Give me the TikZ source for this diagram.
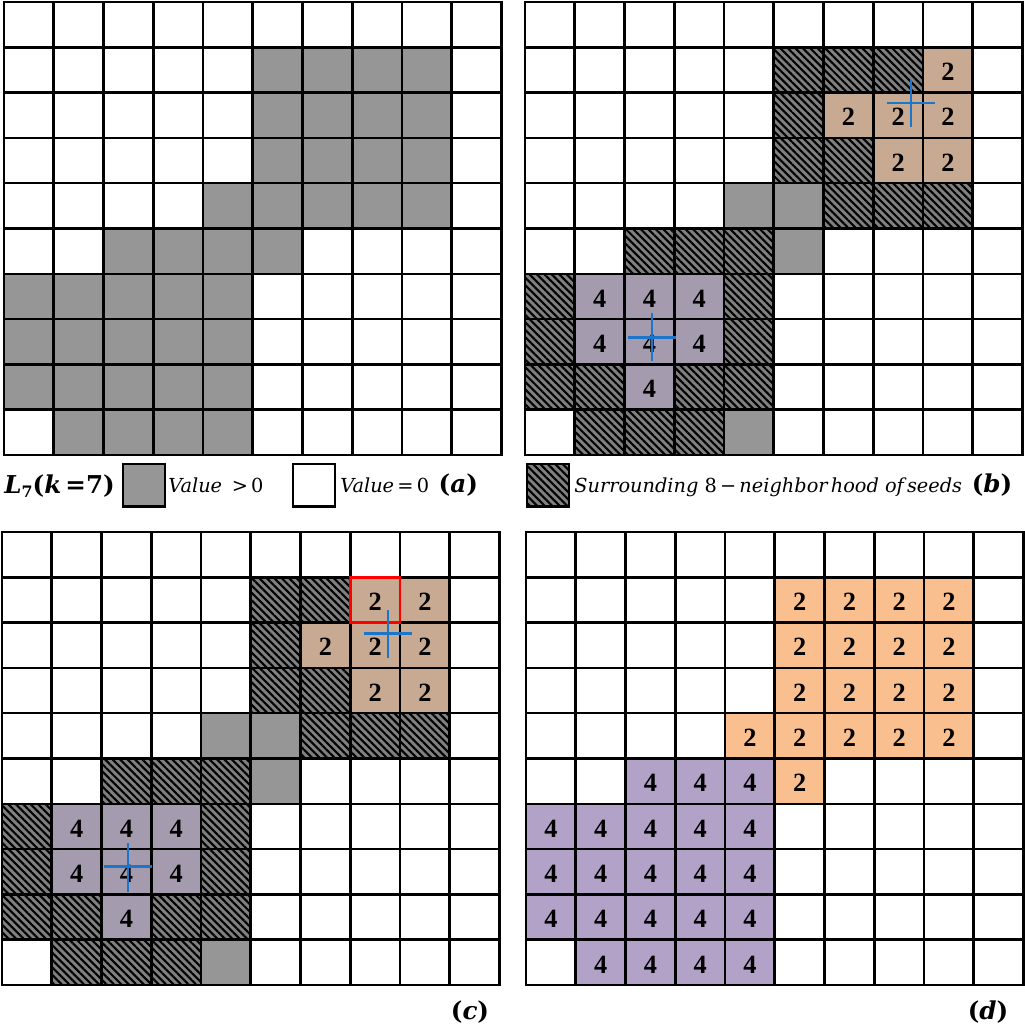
\documentclass[tikz,border=0pt]{standalone}
\usepackage{fontspec}
\newfontfamily\numfont{Liberation Serif}
\newfontfamily\legfont{DejaVu Serif}
\usetikzlibrary{patterns.meta}
\definecolor{gfill}{HTML}{969696}
\definecolor{hfill}{HTML}{808080}
\definecolor{tanfill}{HTML}{C8AA92}
\definecolor{purpb}{HTML}{A49CAE}
\definecolor{orng}{HTML}{F9BF8F}
\definecolor{purpd}{HTML}{B2A2C7}
\definecolor{crossblue}{HTML}{1C75C8}
\def\cwd{49.75}
\def\cht{45.3}
\tikzset{
  gl/.style={line width=1.45pt, draw=black, line cap=rect},
  gcell/.style={fill=gfill},
  hcell/.style={fill=hfill, postaction={pattern={Lines[angle=-45,distance=3pt,line width=1.2pt]}, pattern color=black}},
  tcell/.style={fill=tanfill},
  pbcell/.style={fill=purpb},
  ocell/.style={fill=orng},
  pdcell/.style={fill=purpd},
  num/.style={font=\numfont\bfseries\fontsize{15}{17}\selectfont, inner sep=0pt},
  crossline/.style={line width=1.5pt, draw=crossblue},
  legbox/.style={draw=black, line width=1.4pt},
  legtext/.style={anchor=west, inner sep=0pt, font=\legfont\fontsize{11}{13}\selectfont},
  plabel/.style={inner sep=0pt, font=\legfont\bfseries\fontsize{14}{16}\selectfont},
}
\newcommand\cellset[2]{\foreach \c/\r in {#2} {\path[#1] ({\c*\cwd},{\r*\cht}) rectangle ++(\cwd,\cht);}}
\newcommand\numset[4]{\foreach \c/\r in {#4} {\path[#2] ({\c*\cwd},{\r*\cht}) rectangle ++(\cwd,\cht);
  \node[num] (#1-\c-\r) at ({(\c+0.5)*\cwd},{(\r+0.5)*\cht+2}) {#3};}}
\newcommand\gridlines{\foreach \i in {0,...,10} {\draw[gl] ({\i*\cwd},0) -- ({\i*\cwd},{10*\cht}); \draw[gl] (0,{\i*\cht}) -- ({10*\cwd},{\i*\cht});}}
\begin{document}
\begin{tikzpicture}[x=0.02cm,y=-0.02cm]
\useasboundingbox[fill=white] (0,0) rectangle (1024,1027);

% ---------- panel (a)
\begin{scope}[shift={(4,2)}]
\cellset{gcell}{5/1,6/1,7/1,8/1,5/2,6/2,7/2,8/2,5/3,6/3,7/3,8/3,4/4,5/4,6/4,7/4,8/4,2/5,3/5,4/5,5/5,0/6,1/6,2/6,3/6,4/6,0/7,1/7,2/7,3/7,4/7,0/8,1/8,2/8,3/8,4/8,1/9,2/9,3/9,4/9}
\gridlines
\end{scope}

% ---------- panel (b)
\begin{scope}[shift={(525,2)}]
\cellset{hcell}{5/1,6/1,7/1,5/2,5/3,6/3,6/4,7/4,8/4,2/5,3/5,4/5,0/6,4/6,0/7,4/7,0/8,1/8,3/8,4/8,1/9,2/9,3/9}
\cellset{gcell}{4/4,5/4,5/5,4/9}
\numset{b}{tcell}{2}{8/1,6/2,7/2,8/2,7/3,8/3}
\numset{b}{pbcell}{4}{1/6,2/6,3/6,1/7,2/7,3/7,2/8}
\gridlines
\end{scope}
\draw[crossline] (887,103) -- (935,103);
\draw[crossline] (911,80) -- (911,127);
\draw[crossline] (628,337.5) -- (676,337.5);
\draw[crossline] (652,313) -- (652,361);

% ---------- panel (c)
\begin{scope}[shift={(2,532)}]
\cellset{hcell}{5/1,6/1,5/2,5/3,6/3,6/4,7/4,8/4,2/5,3/5,4/5,0/6,4/6,0/7,4/7,0/8,1/8,3/8,4/8,1/9,2/9,3/9}
\cellset{gcell}{4/4,5/4,5/5,4/9}
\numset{c}{tcell}{2}{7/1,8/1,6/2,7/2,8/2,7/3,8/3}
\numset{c}{pbcell}{4}{1/6,2/6,3/6,1/7,2/7,3/7,2/8}
\gridlines
\draw[line width=1.6pt, draw=red] (7*\cwd,\cht) rectangle (8*\cwd,2*\cht);
\end{scope}
\draw[crossline] (364,633.5) -- (412,633.5);
\draw[crossline] (388,610) -- (388,658);
\draw[crossline] (104,866.5) -- (152,866.5);
\draw[crossline] (128,843) -- (128,891.5);

% ---------- panel (d)
\begin{scope}[shift={(526,532)}]
\numset{d}{ocell}{2}{5/1,6/1,7/1,8/1,5/2,6/2,7/2,8/2,5/3,6/3,7/3,8/3,4/4,5/4,6/4,7/4,8/4,5/5}
\numset{d}{pdcell}{4}{2/5,3/5,4/5,0/6,1/6,2/6,3/6,4/6,0/7,1/7,2/7,3/7,4/7,0/8,1/8,2/8,3/8,4/8,1/9,2/9,3/9,4/9}
\gridlines
\end{scope}

% ---------- legends
\node[legtext, font=\legfont\bfseries\fontsize{14}{16}\selectfont] (lk) at (4,486)
  {\textit{L}\raisebox{-0.35ex}{\fontsize{9}{10}\selectfont 7}(\textit{k}\,=7)};
\path[legbox, fill=gfill] (123,464) rectangle (165,506.5);
\node[legtext] (lv1) at (168,485) {\textit{Value}\enspace>\,0};
\path[legbox, fill=white] (293,464) rectangle (335,506.5);
\node[legtext] (lv0) at (340,485) {\textit{Value}\,=\,0\enspace{\bfseries\fontsize{14}{16}\selectfont(\textit{a})}};
\path[legbox, hcell] (527,464) rectangle (569,506.5);
\node[legtext] (lh) at (574,485) {\textit{Surrounding} 8\,\textminus\,\textit{neighbor\,hood of\,seeds}\enspace{\bfseries\fontsize{14}{16}\selectfont(\textit{b})}};
\node[plabel] (lc) at (470,1012) {(\textit{c})};
\node[plabel] (ld) at (988,1012) {(\textit{d})};
\end{tikzpicture}
\end{document}
